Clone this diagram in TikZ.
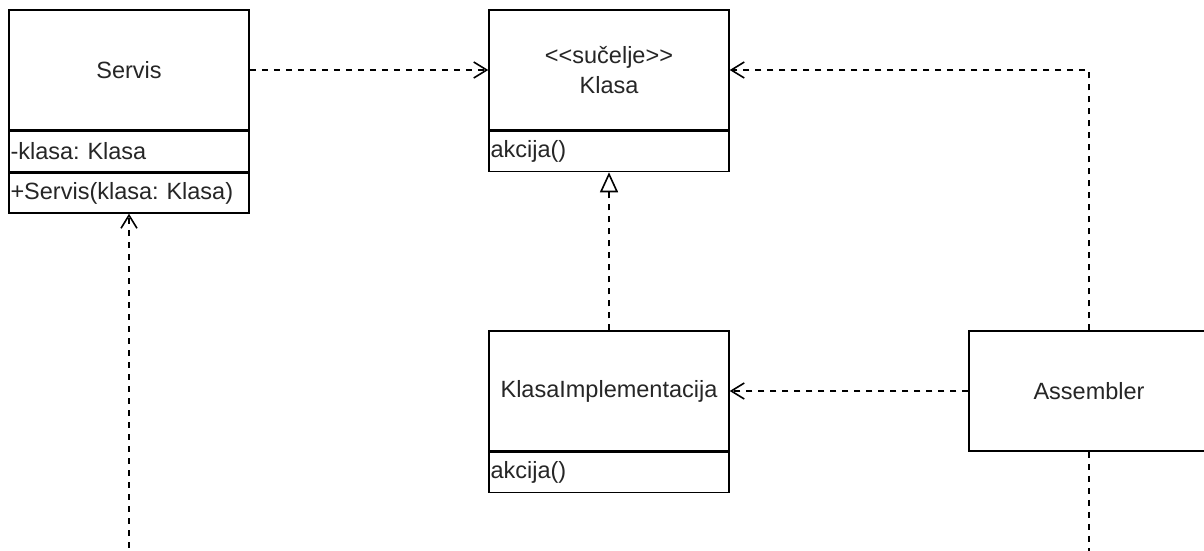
\documentclass[tikz,border=0pt]{standalone}
\usepackage{fontspec}
\newfontfamily\umlfont{Liberation Sans}
\usetikzlibrary{arrows.meta}
\frenchspacing
\begin{document}
\begin{tikzpicture}[x=1pt,y=-1pt,
  umltext/.style={font=\umlfont\fontsize{23.5}{30}\selectfont, text=black!85},
  hdr/.style={draw, line width=1.5pt, fill=white, minimum width=240pt, minimum height=120pt, inner sep=0pt, align=center, umltext},
  row/.style={draw, line width=1.5pt, fill=white, text width=237pt, inner xsep=1.5pt, inner ysep=0pt, minimum height=40pt, align=left, anchor=north, umltext},
  dep/.style={line width=1.5pt, dash pattern=on 6pt off 6pt, -{Straight Barb[length=13pt,width=16pt,line width=1.6pt]}},
  real/.style={line width=1.5pt, dash pattern=on 6pt off 6pt, -{Triangle[open,length=20pt,width=18pt,line width=1.6pt,fill=white]}}
]
\clip (0,0) rectangle (1204,550);
\fill[white] (0,0) rectangle (1204,550);

% Servis
\node[hdr] (servis) at (129,70) {Servis};
\node[row] (servisAttr) at (servis.south) {-klasa: Klasa};
\node[row] (servisOp) at (servisAttr.south) {+Servis(klasa: Klasa)};

% Klasa (interface)
\node[hdr] (klasa) at (609,70) {<<sučelje>>\\Klasa};
\node[row] (klasaOp) at (klasa.south) {akcija()};

% KlasaImplementacija
\node[hdr] (impl) at (609,391) {KlasaImplementacija};
\node[row] (implOp) at (impl.south) {akcija()};

% Assembler
\node[hdr] (asm) at (1089,391) {Assembler};

% connectors
\draw[dep] (servis.east) -- (klasa.west);
\draw[dep] (asm.north) |- (klasa.east);
\draw[real] (impl.north) -- (klasaOp.south);
\draw[dep] (asm.west) -- (impl.east);
\draw[dep] (asm.south) -- ++(0,150) coordinate (below) -| (servisOp.south);
\end{tikzpicture}
\end{document}
